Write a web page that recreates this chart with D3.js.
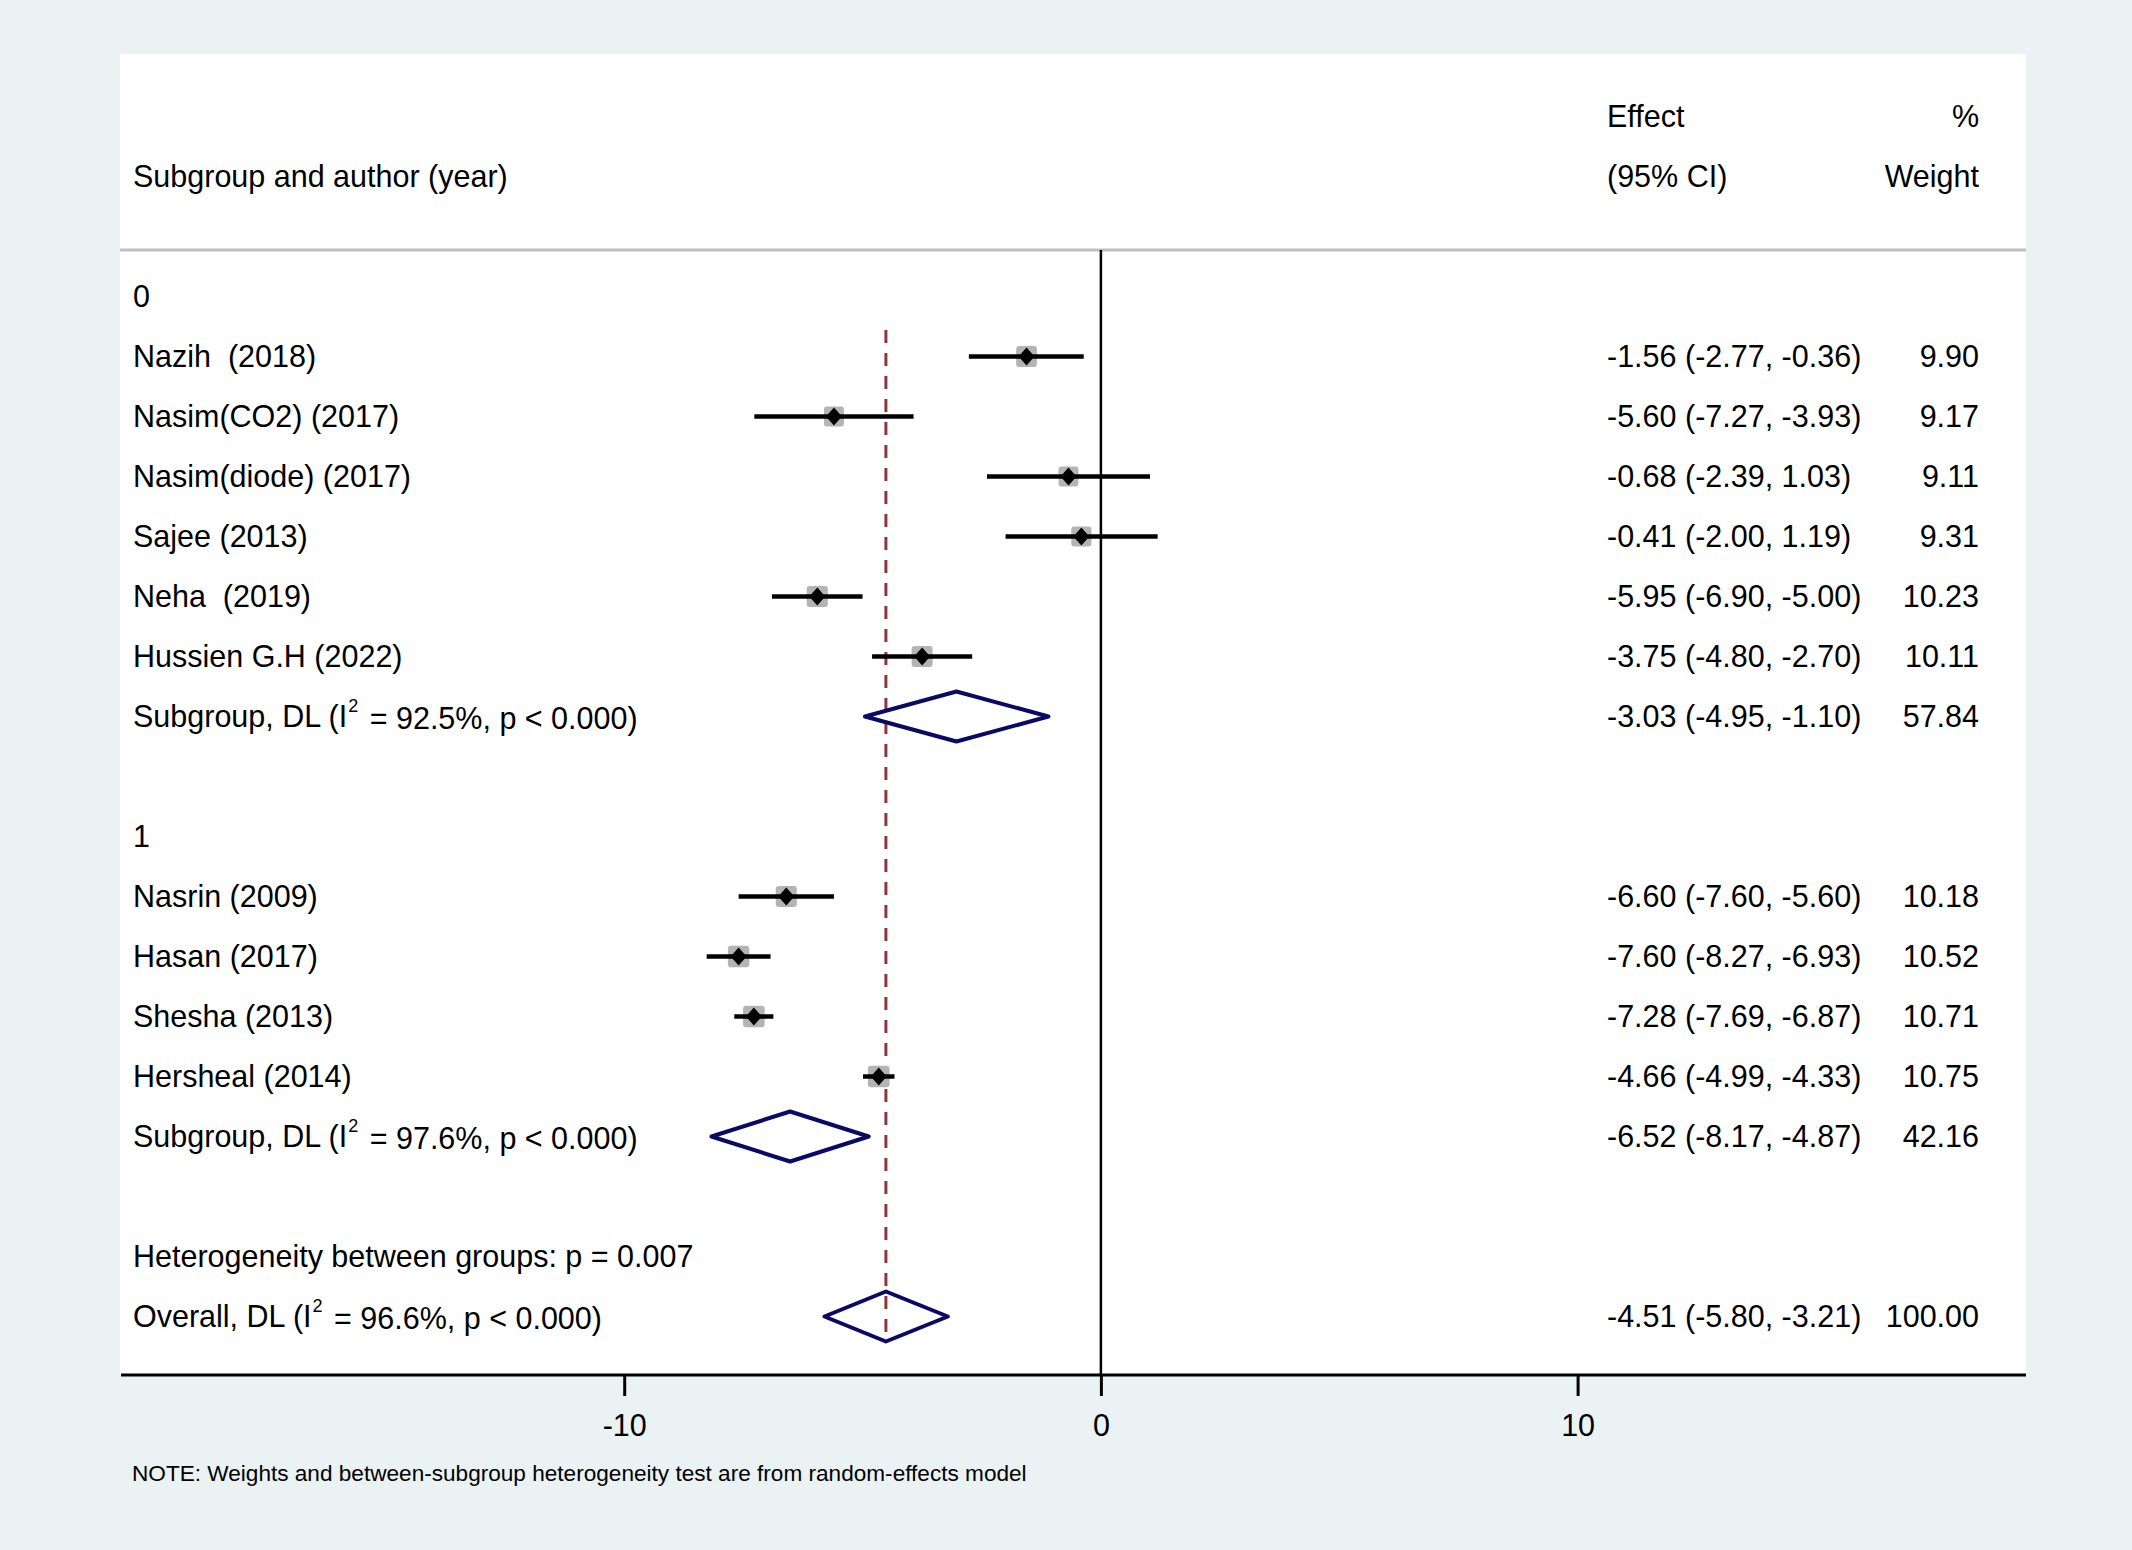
<!DOCTYPE html>
<html>
<head>
<meta charset="utf-8">
<script src="https://cdn.jsdelivr.net/npm/d3@7"></script>
<style>
  body { margin: 0; background: #eaf2f3; }
  text { font-family: Arial, "Liberation Sans", sans-serif; fill: #000; white-space: pre; }
</style>
</head>
<body>
<div id="forest"></div>
<script>
// study rows
const studyNames = ["Nazih  (2018)", "Nasim(CO2) (2017)", "Nasim(diode) (2017)", "Sajee (2013)",
  "Neha  (2019)", "Hussien G.H (2022)", "Nasrin (2009)", "Hasan (2017)", "Shesha (2013)", "Hersheal (2014)"];
const studyGroup  = [0, 0, 0, 0, 0, 0, 1, 1, 1, 1];
const studyES     = [-1.56, -5.60, -0.68, -0.41, -5.95, -3.75, -6.60, -7.60, -7.28, -4.66];
const studyLo     = [-2.77, -7.27, -2.39, -2.00, -6.90, -4.80, -7.60, -8.27, -7.69, -4.99];
const studyHi     = [-0.36, -3.93,  1.03,  1.19, -5.00, -2.70, -5.60, -6.93, -6.87, -4.33];
const studyWeight = [9.90, 9.17, 9.11, 9.31, 10.23, 10.11, 10.18, 10.52, 10.71, 10.75];

// subgroup pooled estimates
const groupLabels = ["0", "1"];
const groupI2     = ["92.5%", "97.6%"];
const groupES     = [-3.03, -6.52];
const groupLo     = [-4.95, -8.17];
const groupHi     = [-1.10, -4.87];
const groupWeight = [57.84, 42.16];

// overall
const overallES = -4.51, overallLo = -5.80, overallHi = -3.21, overallWeight = 100.00;
const overallI2 = "96.6%";
const hetP = "0.007";

const xTicks = [-10, 0, 10];

var W = 2132, H = 1550,
    panel = {left: 120, right: 2026, top: 54, bottom: 1375},
    fs = 30.5;

var svg = d3.select("#forest").append("svg")
  .attr("width", W).attr("height", H)
  .attr("viewBox", "0 0 " + W + " " + H);

svg.append("rect").attr("width", W).attr("height", H).attr("fill", "#eaf2f3");
svg.append("rect")
  .attr("x", panel.left).attr("y", panel.top)
  .attr("width", panel.right - panel.left).attr("height", panel.bottom - panel.top)
  .attr("fill", "#fff");

// build the rows in display order
var rows = [];
groupLabels.forEach(function(g, gi){
  rows.push({kind: "group", label: g});
  studyNames.forEach(function(n, i){
    if (studyGroup[i] === gi)
      rows.push({kind: "study", label: n, es: studyES[i], lo: studyLo[i], hi: studyHi[i], w: studyWeight[i]});
  });
  rows.push({kind: "pooled", label: "Subgroup, DL (I", i2: groupI2[gi], es: groupES[gi], lo: groupLo[gi], hi: groupHi[gi], w: groupWeight[gi]});
  rows.push({kind: "blank"});
});
rows.push({kind: "het", label: "Heterogeneity between groups: p = " + hetP});
rows.push({kind: "pooled", label: "Overall, DL (I", i2: overallI2, es: overallES, lo: overallLo, hi: overallHi, w: overallWeight});
rows.forEach(function(r, i){ r.idx = i; });

var x = d3.scaleLinear().domain([-10, 10]).range([624.2, 1577.6]);
var y = d3.scaleLinear().domain([0, rows.length - 1]).range([296.5, 1316.5]);
var step = y(1) - y(0);

var fmt = function(v){ return v.toFixed(2); };

// headers
var colEffect = 1607, colWeight = 1979, colLabel = 133;
svg.append("text").attr("x", colEffect).attr("y", y(-3)).attr("dy", "0.35em").attr("font-size", fs).text("Effect");
svg.append("text").attr("x", colEffect).attr("y", y(-2)).attr("dy", "0.35em").attr("font-size", fs).text("(95% CI)");
svg.append("text").attr("x", colWeight).attr("y", y(-3)).attr("dy", "0.35em").attr("font-size", fs).attr("text-anchor", "end").text("%");
svg.append("text").attr("x", colWeight).attr("y", y(-2)).attr("dy", "0.35em").attr("font-size", fs).attr("text-anchor", "end").text("Weight");
svg.append("text").attr("x", colLabel).attr("y", y(-2)).attr("dy", "0.35em").attr("font-size", fs).text("Subgroup and author (year)");

// separator
svg.append("line")
  .attr("x1", panel.left).attr("x2", panel.right)
  .attr("y1", 250).attr("y2", 250)
  .attr("stroke", "#c0c0c0").attr("stroke-width", 3);

// null line
svg.append("line")
  .attr("x1", x(0)).attr("x2", x(0))
  .attr("y1", 250).attr("y2", panel.bottom)
  .attr("stroke", "#000").attr("stroke-width", 2.5);

// overall effect dashed line
svg.append("line")
  .attr("x1", x(overallES)).attr("x2", x(overallES))
  .attr("y1", y(1) - step * 0.44).attr("y2", y(rows.length - 1) + step * 0.44)
  .attr("stroke", "#90353b").attr("stroke-width", 3)
  .attr("stroke-dasharray", "13,10");

// left labels
rows.filter(function(r){ return r.label; }).forEach(function(r){
  var t = svg.append("text").attr("x", colLabel).attr("y", y(r.idx)).attr("dy", "0.35em").attr("font-size", fs);
  if (r.kind === "pooled") {
    t.append("tspan").text(r.label);
    t.append("tspan").attr("font-size", 18).attr("dx", 1).attr("dy", "-0.85em").text("2");
    t.append("tspan").attr("dx", 3).attr("dy", "0.55em").text(" = " + r.i2 + ", p < 0.000)");
  } else {
    t.text(r.label);
  }
});

// right columns
var est = rows.filter(function(r){ return r.kind === "study" || r.kind === "pooled"; });
svg.selectAll(".eff").data(est).enter().append("text")
  .attr("class", "eff")
  .attr("x", colEffect).attr("y", function(d){ return y(d.idx); })
  .attr("dy", "0.35em").attr("font-size", fs)
  .text(function(d){ return fmt(d.es) + " (" + fmt(d.lo) + ", " + fmt(d.hi) + ")"; });
svg.selectAll(".wt").data(est).enter().append("text")
  .attr("class", "wt")
  .attr("x", colWeight).attr("y", function(d){ return y(d.idx); })
  .attr("dy", "0.35em").attr("font-size", fs).attr("text-anchor", "end")
  .text(function(d){ return fmt(d.w); });

// studies: weight boxes, CI lines, point diamonds
var studies = rows.filter(function(r){ return r.kind === "study"; });
var side = function(w){ return 6.6 * Math.sqrt(w); };
svg.selectAll(".box").data(studies).enter().append("rect")
  .attr("class", "box")
  .attr("x", function(d){ return x(d.es) - side(d.w) / 2; })
  .attr("y", function(d){ return y(d.idx) - side(d.w) / 2; })
  .attr("width", function(d){ return side(d.w); })
  .attr("height", function(d){ return side(d.w); })
  .attr("rx", 3)
  .attr("fill", "#b4b4b4");
svg.selectAll(".ci").data(studies).enter().append("line")
  .attr("class", "ci")
  .attr("x1", function(d){ return x(d.lo); })
  .attr("x2", function(d){ return x(d.hi); })
  .attr("y1", function(d){ return y(d.idx); })
  .attr("y2", function(d){ return y(d.idx); })
  .attr("stroke", "#000").attr("stroke-width", 4.5);
svg.selectAll(".pt").data(studies).enter().append("path")
  .attr("class", "pt")
  .attr("d", function(d){
    var cx = x(d.es), cy = y(d.idx);
    return "M" + (cx - 8) + "," + cy + "L" + cx + "," + (cy - 9) + "L" + (cx + 8) + "," + cy + "L" + cx + "," + (cy + 9) + "Z";
  })
  .attr("fill", "#000");

// pooled diamonds
var pooled = rows.filter(function(r){ return r.kind === "pooled"; });
svg.selectAll(".dia").data(pooled).enter().append("path")
  .attr("class", "dia")
  .attr("d", function(d){
    var cy = y(d.idx), hh = 25;
    return "M" + x(d.lo) + "," + cy + "L" + x(d.es) + "," + (cy - hh) + "L" + x(d.hi) + "," + cy + "L" + x(d.es) + "," + (cy + hh) + "Z";
  })
  .attr("fill", "none").attr("stroke", "#0a0a64").attr("stroke-width", 4)
  .attr("stroke-linejoin", "round");

// x axis
var axisG = svg.append("g").attr("transform", "translate(0," + panel.bottom + ")");
axisG.call(d3.axisBottom(x).tickValues(xTicks).tickSize(21).tickPadding(18).tickFormat(function(d){ return d < 0 ? "-" + Math.abs(d) : String(d); }));
axisG.select(".domain").remove();
axisG.selectAll(".tick line").attr("stroke", "#000").attr("stroke-width", 3);
axisG.selectAll(".tick text").attr("font-size", fs).attr("font-family", "Arial, 'Liberation Sans', sans-serif").attr("fill", "#000");
axisG.append("line")
  .attr("x1", panel.left + 1).attr("x2", panel.right)
  .attr("stroke", "#000").attr("stroke-width", 3);

// note
svg.append("text")
  .attr("x", 132).attr("y", 1481).attr("font-size", 22.6)
  .text("NOTE: Weights and between-subgroup heterogeneity test are from random-effects model");
</script>
</body>
</html>
